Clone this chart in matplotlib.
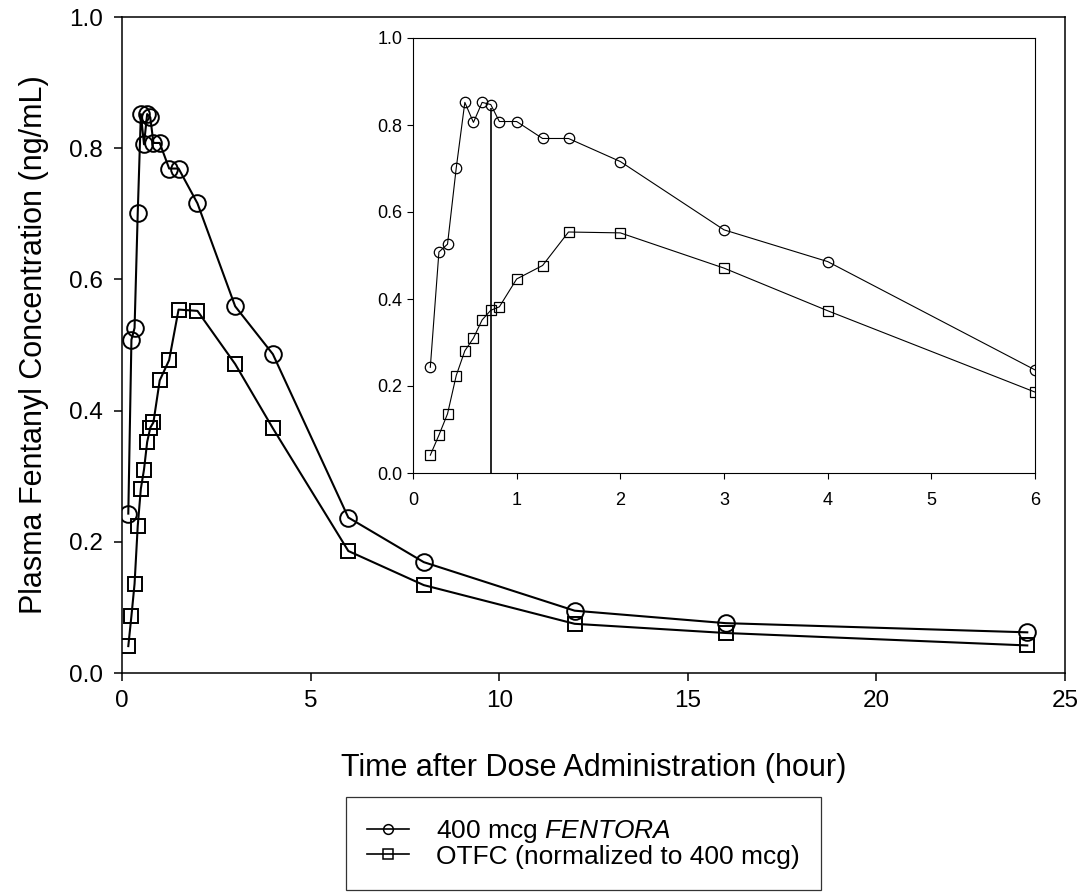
import numpy as np
import matplotlib
matplotlib.use("Agg")
import matplotlib.pyplot as plt
from matplotlib.lines import Line2D

plt.rcParams['font.family'] = ['Liberation Sans', 'DejaVu Sans']
plt.rcParams['mathtext.fontset'] = 'custom'
plt.rcParams['mathtext.rm'] = 'Liberation Sans'
plt.rcParams['mathtext.it'] = 'Liberation Sans:italic'

# sampling times (hour)
hours = [0.167, 0.25, 0.333, 0.417, 0.5, 0.583, 0.667, 0.75, 0.833, 1.0,
         1.25, 1.5, 2, 3, 4, 6, 8, 12, 16, 24]
# plasma fentanyl concentration (ng/mL)
fentora = [0.243, 0.508, 0.526, 0.701, 0.852, 0.806, 0.852, 0.847, 0.808, 0.808,
           0.769, 0.769, 0.716, 0.559, 0.486, 0.237, 0.169, 0.095, 0.076, 0.062]
otfc = [0.041, 0.087, 0.136, 0.224, 0.281, 0.310, 0.352, 0.374, 0.382, 0.446,
        0.477, 0.554, 0.552, 0.471, 0.373, 0.186, 0.134, 0.075, 0.061, 0.042]
tmax_idx = 7  # vertical marker in the inset

labels = ['400 mcg $\\mathit{FENTORA}$', 'OTFC (normalized to 400 mcg)']
inset_end = 6

W, H = 1078, 893
fig = plt.figure(figsize=(W / 100, H / 100), dpi=100)

# main axes
ax = fig.add_axes([122 / W, 1 - 673 / H, (1065 - 122) / W, (673 - 17) / H])
ax.plot(hours, fentora, '-', color='black', lw=1.5, marker='o', ms=12,
        mfc='none', mec='black', mew=1.4)
ax.plot(hours, otfc, '-', color='black', lw=1.5, marker='s', ms=10.5,
        mfc='none', mec='black', mew=1.4)
ax.set_xlim(0, 25)
ax.set_ylim(0, 1.0)
ax.set_xticks([0, 5, 10, 15, 20, 25])
ax.set_yticks(np.arange(0, 1.01, 0.2))
ax.set_yticklabels(['%.1f' % v for v in np.arange(0, 1.01, 0.2)])
ax.tick_params(direction='out', length=6, width=1.1, labelsize=17.5,
               top=False, right=False)
ax.tick_params(axis='y', pad=8)
ax.tick_params(axis='x', pad=6)
for s in ax.spines.values():
    s.set_linewidth(1.1)
ax.set_xlabel('Time after Dose Administration (hour)', fontsize=22, labelpad=30)
ax.set_ylabel('Plasma Fentanyl Concentration (ng/mL)', fontsize=22, labelpad=14)

# inset: first 6 hours
n_in = sum(1 for h in hours if h <= inset_end)
ins = fig.add_axes([413 / W, 1 - 473 / H, (1035 - 413) / W, (473 - 38) / H])
ins.plot(hours[:n_in], fentora[:n_in], '-', color='black', lw=0.8, marker='o',
         ms=7.5, mfc='none', mec='black', mew=0.9)
ins.plot(hours[:n_in], otfc[:n_in], '-', color='black', lw=0.8, marker='s',
         ms=6.5, mfc='none', mec='black', mew=0.9)
ins.vlines(hours[tmax_idx], 0, fentora[tmax_idx] - 0.008, color='black', lw=1.2)
ins.set_xlim(0, inset_end)
ins.set_ylim(0, 1.0)
ins.set_xticks(range(0, inset_end + 1))
ins.set_yticks(np.arange(0, 1.01, 0.2))
ins.set_yticklabels(['%.1f' % v for v in np.arange(0, 1.01, 0.2)])
ins.tick_params(direction='out', length=4.5, width=0.8, labelsize=13,
                top=False, right=False)
ins.tick_params(axis='x', pad=9)
ins.tick_params(axis='y', pad=3)
for s in ins.spines.values():
    s.set_linewidth(0.8)

# legend
handles = [Line2D([], [], color='black', lw=1.2, marker='o', ms=7, mfc='none', mew=1.1),
           Line2D([], [], color='black', lw=1.2, marker='s', ms=6.5, mfc='none', mew=1.1)]
leg = fig.legend(handles, labels, loc='upper left',
                 bbox_to_anchor=(346 / W, 1 - 797 / H), bbox_transform=fig.transFigure,
                 fontsize=19, frameon=True, fancybox=False, edgecolor='black',
                 handlelength=1.6, handletextpad=1.0, labelspacing=-0.02,
                 borderpad=0.8, borderaxespad=0)
leg.get_frame().set_linewidth(0.9)

fig.savefig('out.png', dpi=100)
